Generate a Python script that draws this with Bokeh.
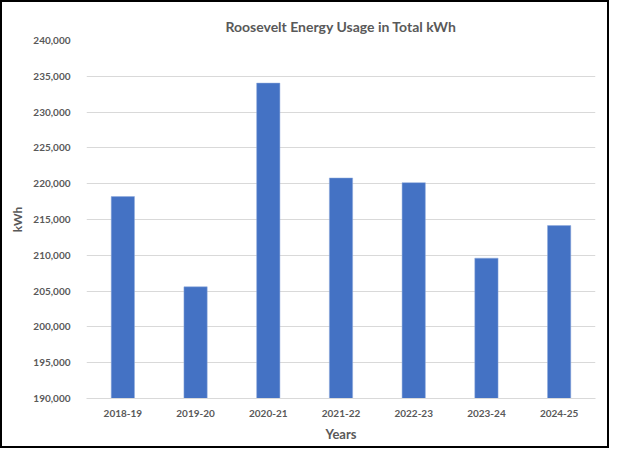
from bokeh.plotting import figure
from bokeh.models import ColumnDataSource, NumeralTickFormatter, FixedTicker, Range1d
from bokeh.embed import file_html
from bokeh.resources import INLINE

years = ["2018-19", "2019-20", "2020-21", "2021-22", "2022-23", "2023-24", "2024-25"]
kwh = [218200, 205600, 234050, 220800, 220150, 209600, 214150]
y_ticks = [190000, 195000, 200000, 205000, 210000, 215000, 220000, 225000, 230000, 235000, 240000]

FONT = "Lato"
GRAY = "#595959"

src = ColumnDataSource(dict(years=years, kwh=kwh))

p = figure(x_range=years, width=609, height=448, output_backend="svg",
           toolbar_location=None, title="Roosevelt Energy Usage in Total kWh",
           min_border_left=84, min_border_right=16, min_border_top=38, min_border_bottom=52)
p.y_range = Range1d(190000, 240000)

p.vbar(x="years", top="kwh", bottom=190000, width=0.32, source=src,
       fill_color="#4472C4", line_color="#8FAADC", line_width=0.5)

p.styles = {"border": "2px solid black"}

p.title.align = "center"
p.title.text_font = FONT
p.title.text_font_size = "14px"
p.title.text_font_style = "bold"
p.title.text_color = GRAY
p.title.offset = 0
p.title.standoff = 12

p.outline_line_color = None
p.xgrid.grid_line_color = None
p.ygrid.grid_line_color = "#D9D9D9"
p.ygrid.grid_line_width = 1

p.yaxis.ticker = FixedTicker(ticks=y_ticks)
p.yaxis.formatter = NumeralTickFormatter(format="0,0")
for ax in (p.xaxis[0], p.yaxis[0]):
    ax.major_tick_line_color = None
    ax.minor_tick_line_color = None
    ax.major_label_text_font = FONT
    ax.major_label_text_font_size = "10px"
    ax.major_label_text_font_style = "bold"
    ax.major_label_text_color = GRAY
    ax.axis_label_text_font = FONT
    ax.axis_label_text_font_style = "bold"
    ax.axis_label_text_color = GRAY

p.yaxis.axis_line_color = None
p.xaxis.axis_line_color = "#D9D9D9"
p.yaxis.major_label_standoff = 10
p.xaxis.major_label_standoff = 5
p.xaxis.axis_label = "Years"
p.xaxis.axis_label_text_font_size = "13px"
p.xaxis.axis_label_standoff = 6
p.yaxis.axis_label = "kWh"
p.yaxis.axis_label_text_font_size = "12px"
p.yaxis.axis_label_standoff = 5

open("out.html", "w").write(file_html(p, INLINE))
